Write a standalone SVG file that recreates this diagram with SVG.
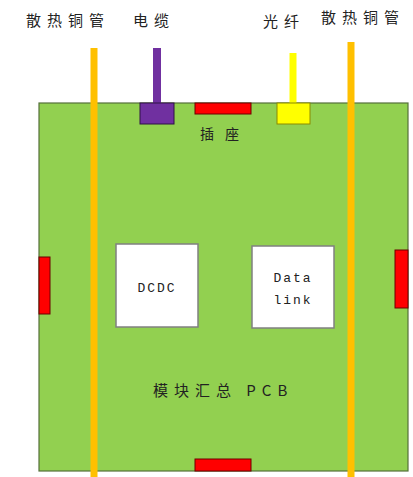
<svg xmlns="http://www.w3.org/2000/svg" width="413" height="477" viewBox="0 0 413 477">
<style>
.lbl{font-family:"Noto Sans CJK SC","Liberation Sans",sans-serif;font-size:15px;fill:#222;letter-spacing:6px}
.in{font-family:"Noto Sans CJK SC","Liberation Sans",sans-serif;font-size:14px;fill:#222;letter-spacing:11px}
.mono{font-family:"Liberation Mono",monospace;font-size:13px;fill:#222;letter-spacing:2px}
.red{fill:#FF0000;stroke:#6b0000;stroke-width:1}
.box{fill:#fff;stroke:#808080;stroke-width:1.5}
.pipe{stroke:#FFC000;stroke-width:7}
</style>
<rect width="413" height="477" fill="#fff"/>
<g id="board">
<rect x="39" y="103" width="369" height="368" fill="#92D050" stroke="#55703a" stroke-width="1.2"/>
<text class="in" x="200" y="139">插座</text>
<text class="lbl" x="153" y="396">模块汇总 PCB</text>
</g>
<g id="connectors">
<rect class="red" x="195" y="103" width="56" height="11"/>
<rect class="red" x="195" y="459" width="56" height="12"/>
<rect class="red" x="39" y="257" width="11" height="57"/>
<rect class="red" x="395" y="250" width="13" height="58"/>
</g>
<g id="cable">
<line x1="157" y1="48" x2="157" y2="103" stroke="#7030A0" stroke-width="8"/>
<rect x="140" y="103" width="34" height="21" fill="#7030A0" stroke="#2e1045" stroke-width="1"/>
<text class="lbl" x="133" y="26">电缆</text>
</g>
<g id="fiber">
<line x1="293" y1="53" x2="293" y2="103" stroke="#FFFF00" stroke-width="7"/>
<rect x="277" y="103" width="33" height="21" fill="#FFFF00" stroke="#8a8a00" stroke-width="1"/>
<text class="lbl" x="263" y="27">光纤</text>
</g>
<g id="pipe-left">
<line class="pipe" x1="94" y1="48" x2="94" y2="477"/>
<text class="lbl" x="26" y="26">散热铜管</text>
</g>
<g id="pipe-right">
<line class="pipe" x1="351" y1="42" x2="351" y2="477"/>
<text class="lbl" x="321" y="23">散热铜管</text>
</g>
<g id="dcdc">
<rect class="box" x="116" y="244" width="82" height="83"/>
<text class="mono" x="157" y="292" text-anchor="middle">DCDC</text>
</g>
<g id="datalink">
<rect class="box" x="252" y="246" width="82" height="82"/>
<text class="mono" x="293" y="282" text-anchor="middle">Data</text>
<text class="mono" x="293" y="304" text-anchor="middle">link</text>
</g>
</svg>
